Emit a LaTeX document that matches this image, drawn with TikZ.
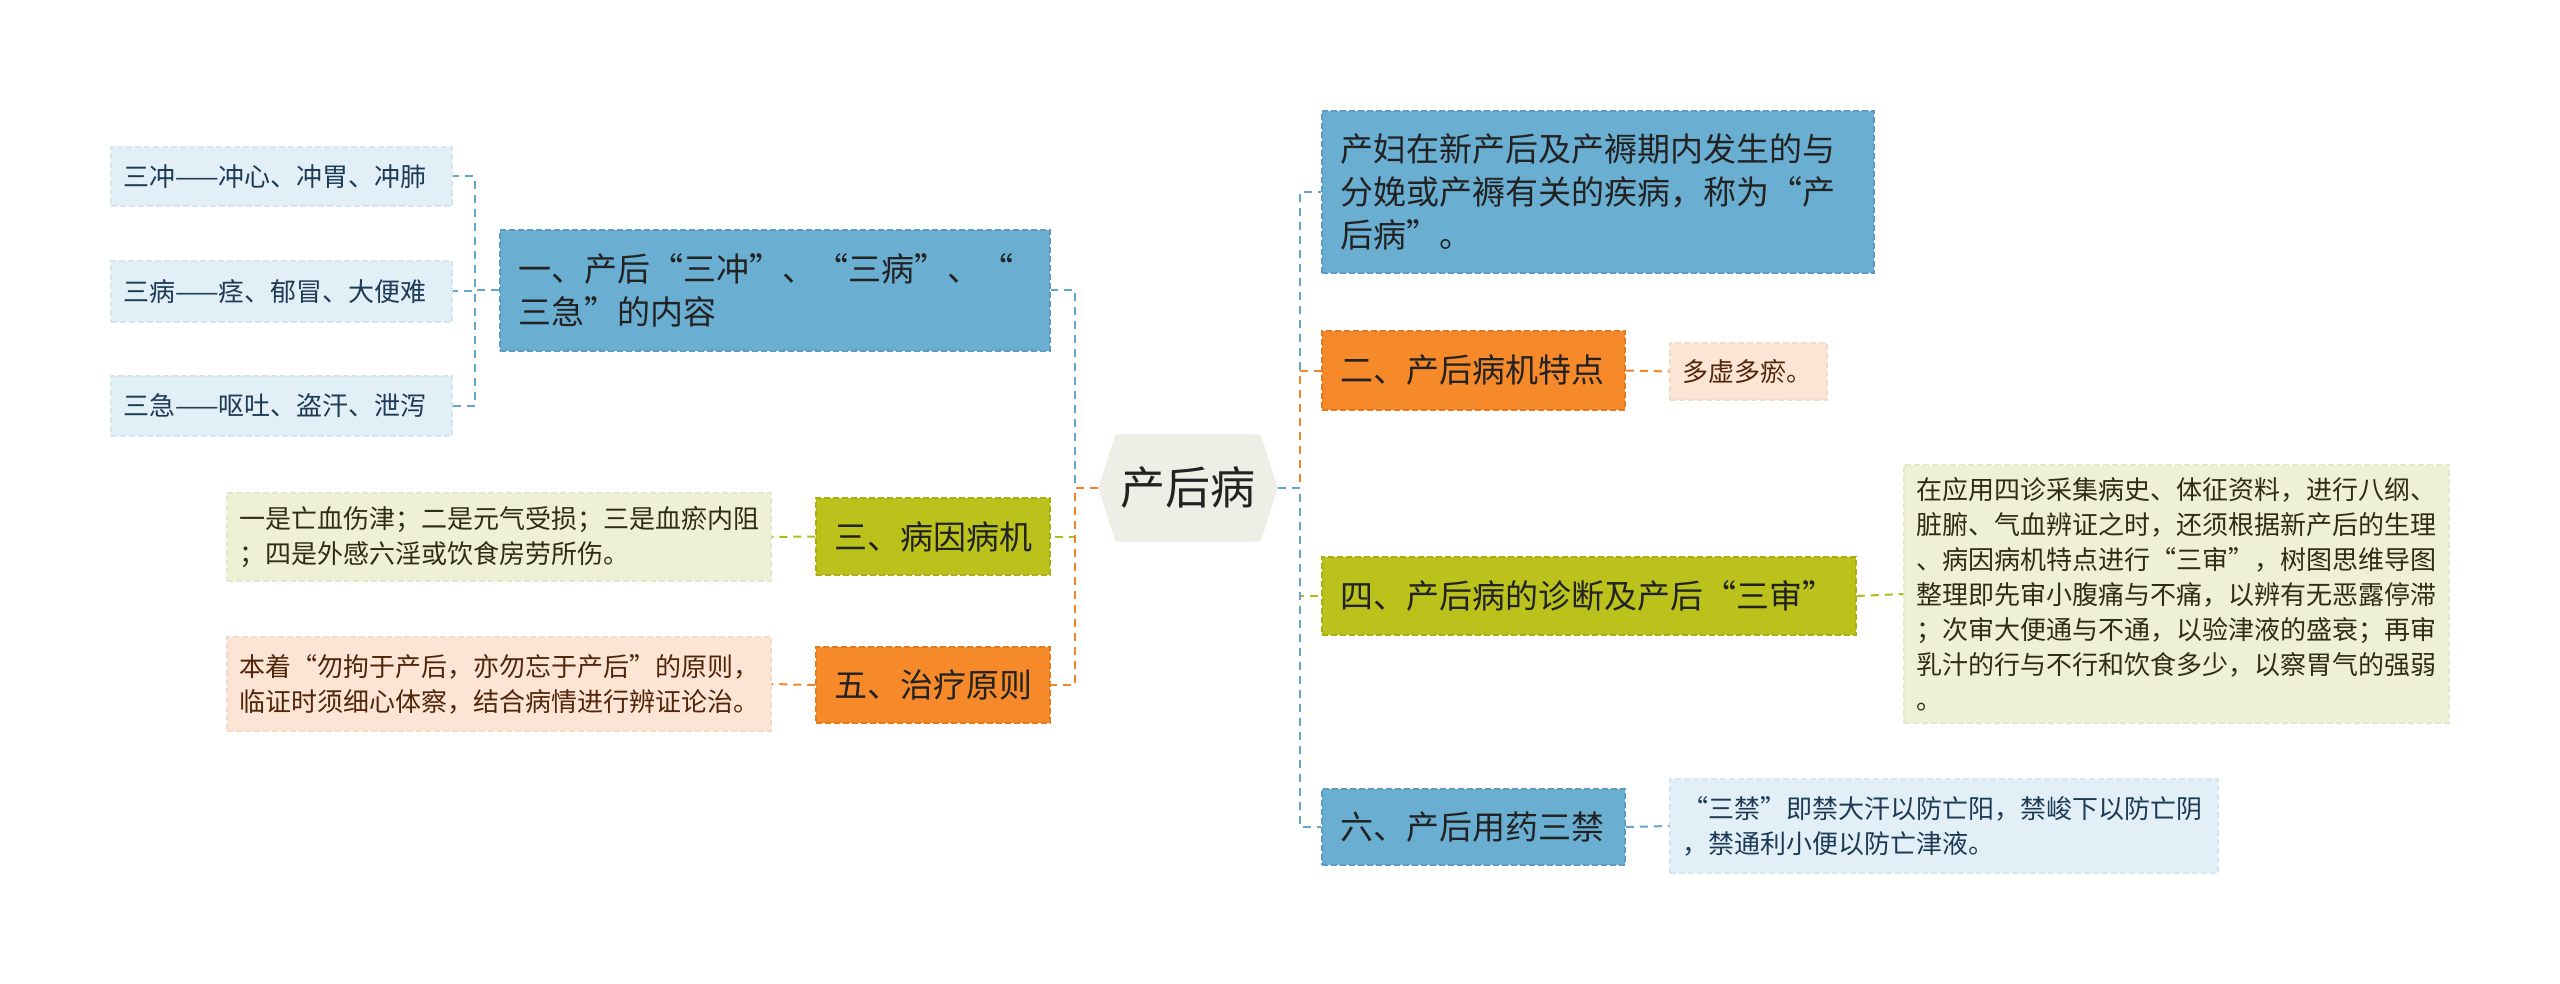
\documentclass[tikz,border=0pt]{standalone}
\usepackage{fontspec}
\setmainfont{Noto Sans CJK SC}
\usetikzlibrary{calc,backgrounds}
\definecolor{cblue}{HTML}{6AAFD2}
\definecolor{cbluebd}{HTML}{5B9CC0}
\definecolor{corange}{HTML}{F68A2B}
\definecolor{corangebd}{HTML}{E27A1E}
\definecolor{clime}{HTML}{BBC21B}
\definecolor{climebd}{HTML}{A9AF12}
\definecolor{chex}{HTML}{EFEEE6}
\definecolor{lblue}{HTML}{E2EFF7}
\definecolor{lbluebd}{HTML}{D5E6F1}
\definecolor{llime}{HTML}{EFF1D7}
\definecolor{llimebd}{HTML}{E5E8C8}
\definecolor{lpeach}{HTML}{FCE5D5}
\definecolor{lpeachbd}{HTML}{F7DAC6}
\definecolor{tmain}{HTML}{222222}
\definecolor{tblue}{HTML}{1D3B55}
\definecolor{tolive}{HTML}{2E2E14}
\definecolor{tbrown}{HTML}{52260A}
\definecolor{kblue}{HTML}{62A6CB}
\definecolor{korange}{HTML}{F0852A}
\definecolor{klime}{HTML}{B3BA1C}
\begin{document}
\begin{tikzpicture}[x=1pt,y=-1pt,
  mainbox/.style={draw, dash pattern=on 6pt off 3pt, line width=1.5pt, inner xsep=18pt, inner ysep=0pt,
    align=left, text=tmain, font=\fontsize{33}{43}\selectfont},
  bluebox/.style={mainbox, fill=cblue, draw=cbluebd},
  orangebox/.style={mainbox, fill=corange, draw=corangebd},
  limebox/.style={mainbox, fill=clime, draw=climebd},
  leaf/.style={draw, dash pattern=on 6pt off 3pt, line width=1.5pt, inner xsep=12pt, inner ysep=0pt,
    align=left, font=\fontsize{26}{35}\selectfont},
  leafblue/.style={leaf, fill=lblue, draw=lbluebd, text=tblue},
  leaflime/.style={leaf, fill=llime, draw=llimebd, text=tolive},
  leafpeach/.style={leaf, fill=lpeach, draw=lpeachbd, text=tbrown},
  conn/.style={line width=2pt, dash pattern=on 8pt off 6pt},
  cblueline/.style={conn, draw=kblue},
  corangeline/.style={conn, draw=korange},
  climeline/.style={conn, draw=klime}
]
\useasboundingbox (0,0) rectangle (2560,984);

% center
\node (C) at (1188,488) [minimum width=179pt, minimum height=107pt, inner sep=0pt, text=tmain,
  font=\fontsize{45}{50}\selectfont] {产后病};
\begin{scope}[on background layer]
\fill[white] (0,0) rectangle (2560,984);
\fill[chex] (C.west) -- ($(C.north west)+(17,0)$) -- ($(C.north east)+(-17,0)$) -- (C.east)
  -- ($(C.south east)+(-17,0)$) -- ($(C.south west)+(17,0)$) -- cycle;
\end{scope}

% left main nodes
\node (N1) at (775,290.5) [bluebox, text width=514pt, minimum height=121pt] {一、产后“三冲”、“三病”、“\\三急”的内容};
\node (N3) at (933,536.5) [limebox, text width=198pt, minimum height=77pt] {三、病因病机};
\node (N5) at (933,685) [orangebox, text width=198pt, minimum height=76pt] {五、治疗原则};

% right main nodes
\node (N0) at (1598,192) [bluebox, text width=516pt, minimum height=162pt] {产妇在新产后及产褥期内发生的与\\分娩或产褥有关的疾病，称为“产\\后病”。};
\node (N2) at (1473.5,370.5) [orangebox, text width=267pt, minimum height=79pt] {二、产后病机特点};
\node (N4) at (1589,596) [limebox, text width=498pt, minimum height=78pt] {四、产后病的诊断及产后“三审”};
\node (N6) at (1473.5,827) [bluebox, text width=267pt, minimum height=76pt] {六、产后用药三禁};

% leaves
\node (L1) at (281.5,176.5) [leafblue, text width=317pt, minimum height=59pt] {三冲——冲心、冲胃、冲肺};
\node (L2) at (281.5,291.5) [leafblue, text width=317pt, minimum height=61pt] {三病——痉、郁冒、大便难};
\node (L3) at (281.5,406) [leafblue, text width=317pt, minimum height=60pt] {三急——呕吐、盗汗、泄泻};
\node (L4) at (499,537) [leaflime, text width=520pt, minimum height=88pt] {一是亡血伤津；二是元气受损；三是血瘀内阻\\；四是外感六淫或饮食房劳所伤。};
\node (L5) at (499,684) [leafpeach, text width=520pt, minimum height=94pt] {本着“勿拘于产后，亦勿忘于产后”的原则，\\临证时须细心体察，结合病情进行辨证论治。};
\node (L6) at (1748.5,371.5) [leafpeach, text width=133pt, minimum height=57pt] {多虚多瘀。};
\node (L7) at (2176.5,594) [leaflime, text width=521pt, minimum height=258pt] {在应用四诊采集病史、体征资料，进行八纲、\\脏腑、气血辨证之时，还须根据新产后的生理\\、病因病机特点进行“三审”，树图思维导图\\整理即先审小腹痛与不痛，以辨有无恶露停滞\\；次审大便通与不通，以验津液的盛衰；再审\\乳汁的行与不行和饮食多少，以察胃气的强弱\\。};
\node (L8) at (1944,826) [leafblue, text width=524pt, minimum height=94pt] {“三禁”即禁大汗以防亡阳，禁峻下以防亡阴\\，禁通利小便以防亡津液。};

% bus coordinates
\coordinate (lb) at (1075,488);
\coordinate (rb) at (1300,488);
\coordinate (b1) at (475,290.5);

% connectors from center
\draw[cblueline] (C.west) -- (lb) |- (N1.east);
\draw[climeline] (C.west) -- (lb) |- (N3.east);
\draw[corangeline] (C.west) -- (lb) |- (N5.east);
\draw[cblueline] (C.east) -- (rb) |- (N0.west);
\draw[corangeline] (C.east) -- (rb) |- (N2.west);
\draw[climeline] (C.east) -- (rb) |- (N4.west);
\draw[cblueline] (C.east) -- (rb) |- (N6.west);

% leaf connectors
\draw[cblueline] (N1.west) -- (b1) |- (L1.east);
\draw[cblueline] (N1.west) -- (b1) |- (L2.east);
\draw[cblueline] (N1.west) -- (b1) |- (L3.east);
\draw[climeline] (N3.west) -- (L4.east);
\draw[corangeline] (N5.west) -- (L5.east);
\draw[corangeline] (N2.east) -- (L6.west);
\draw[climeline] (N4.east) -- (L7.west);
\draw[cblueline] (N6.east) -- (L8.west);
\end{tikzpicture}
\end{document}
